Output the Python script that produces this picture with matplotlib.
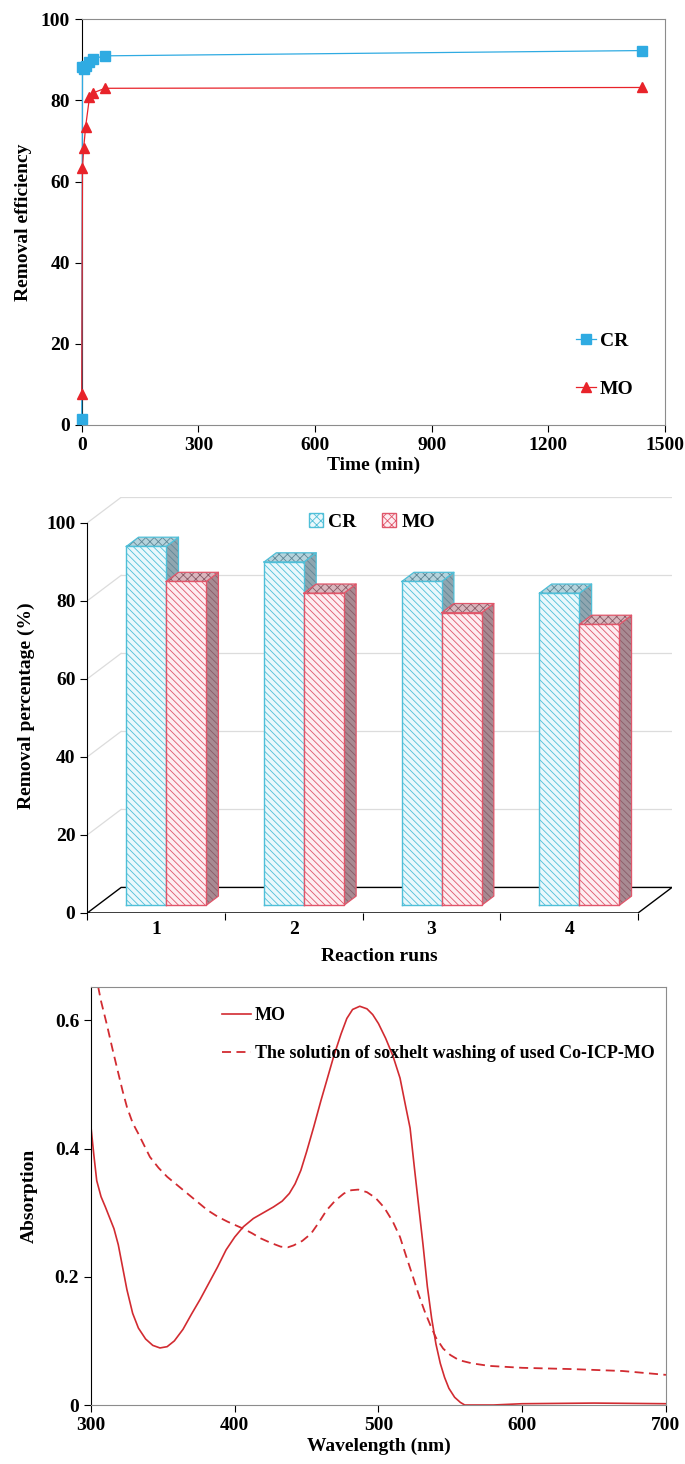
import matplotlib
matplotlib.use('Agg')
import matplotlib.pyplot as plt
from matplotlib.patches import Patch

plt.rcParams['font.family'] = ['Liberation Serif', 'DejaVu Serif']
plt.rcParams['font.weight'] = 'bold'
plt.rcParams['hatch.linewidth'] = 0.6

# removal efficiency vs time
time_cr = [0, 2, 5, 10, 20, 30, 60, 1440]
eff_cr = [1.5, 88.2, 87.8, 88.6, 89.5, 90.3, 91.0, 92.3]
time_mo = [0, 2, 5, 10, 20, 30, 60, 1440]
eff_mo = [7.6, 63.3, 68.2, 73.5, 80.8, 81.9, 83.0, 83.2]

# reusability
runs = ['1', '2', '3', '4']
reuse_cr = [92, 88, 83, 80]
reuse_mo = [83, 80, 75, 72]

# UV-vis spectra
wl_mo = [300, 302, 304, 307, 310, 313, 316, 319, 322, 325, 329, 333, 338, 343,
         348, 353, 358, 364, 370, 376, 382, 388, 394, 400, 406, 413, 420, 427,
         433, 438, 442, 446, 450, 455, 460, 464, 469, 474, 478, 482, 487, 492,
         496, 500, 505, 510, 515, 519, 522, 525, 528, 531, 534, 537, 540, 543,
         546, 549, 553, 557, 560, 580, 600, 650, 700]
abs_mo = [0.434, 0.39, 0.35, 0.325, 0.309, 0.292, 0.275, 0.25, 0.215, 0.18,
          0.143, 0.12, 0.103, 0.093, 0.089, 0.091, 0.1, 0.118, 0.142, 0.165,
          0.19, 0.215, 0.242, 0.262, 0.278, 0.291, 0.3, 0.309, 0.318, 0.33,
          0.345, 0.366, 0.395, 0.434, 0.475, 0.506, 0.545, 0.579, 0.603, 0.617,
          0.622, 0.618, 0.609, 0.595, 0.572, 0.545, 0.51, 0.465, 0.432, 0.37,
          0.31, 0.25, 0.185, 0.135, 0.095, 0.065, 0.043, 0.026, 0.012, 0.004,
          0.0, 0.0, 0.002, 0.003, 0.002]
wl_wash = [303, 307, 311, 315, 318, 322, 325, 329, 333, 337, 341, 347, 353, 360,
           367, 374, 381, 388, 395, 401, 406, 412, 418, 425, 432, 437, 441, 447,
           453, 458, 464, 470, 476, 481, 486, 492, 498, 504, 510, 515, 519, 524,
           528, 532, 536, 540, 545, 550, 556, 565, 577, 600, 635, 670, 700]
abs_wash = [0.675, 0.63, 0.594, 0.555, 0.527, 0.49, 0.465, 0.44, 0.423, 0.405,
            0.387, 0.37, 0.356, 0.343, 0.33, 0.317, 0.304, 0.294, 0.286, 0.28,
            0.275, 0.268, 0.26, 0.253, 0.247, 0.246, 0.249, 0.256, 0.267, 0.283,
            0.304, 0.319, 0.33, 0.335, 0.336, 0.332, 0.323, 0.308, 0.286, 0.262,
            0.234, 0.2, 0.172, 0.147, 0.125, 0.105, 0.088, 0.078, 0.07, 0.065,
            0.061, 0.058, 0.056, 0.053, 0.047]

c_cr = '#2fabe2'
c_mo = '#e8232a'
gray = '#8c8c8c'
fs = 14

fig = plt.figure(figsize=(6.85, 14.64), dpi=100)

# ---------------- top panel ----------------
ax1 = fig.add_axes([0.1193, 0.7097, 0.8515, 0.2771])
ax1.plot(time_cr, eff_cr, color=c_cr, lw=0.9, marker='s', ms=6.5, label='CR',
         zorder=4, clip_on=False)
ax1.plot(time_mo, eff_mo, color=c_mo, lw=0.9, marker='^', ms=7, label='MO',
         zorder=4, clip_on=False)
ax1.set_xlim(0, 1500)
ax1.set_ylim(0, 100)
ax1.set_xticks(range(0, 1501, 300))
ax1.set_yticks(range(0, 101, 20))
ax1.tick_params(labelsize=fs, direction='out', length=5, width=0.8, colors='black')
for s in ['top', 'right', 'bottom']:
    ax1.spines[s].set_color(gray)
ax1.spines['left'].set_color('black')
ax1.set_xlabel('Time (min)', fontsize=fs, fontweight='bold', labelpad=2)
ax1.set_ylabel('Removal efficiency', fontsize=fs, fontweight='bold', labelpad=6)
ax1.legend(loc='center', bbox_to_anchor=(0.897, 0.148), frameon=False,
           fontsize=fs, handlelength=1.0, handletextpad=0.2, labelspacing=1.55)

# ---------------- middle panel (pseudo 3D bars) ----------------
ax2 = fig.add_axes([0.1274, 0.3764, 0.8536, 0.2838])
DX, DY = 0.246, 6.54
ax2.set_xlim(0, 4 + DX)
ax2.set_ylim(0, 106.5)
for s in ['top', 'right', 'bottom']:
    ax2.spines[s].set_visible(False)
ax2.spines['left'].set_bounds(0, 100)
ax2.set_yticks(range(0, 101, 20))
ax2.tick_params(axis='y', labelsize=fs, direction='out', length=5, width=0.8)
ax2.set_xticks([i + 0.5 for i in range(len(runs))])
ax2.set_xticklabels(runs)
ax2.set_xticks(range(len(runs) + 1), minor=True)
ax2.tick_params(axis='x', which='major', length=0, labelsize=fs, pad=6)
ax2.tick_params(axis='x', which='minor', length=5, width=0.8, direction='out')
ax2.set_ylabel('Removal percentage (%)', fontsize=fs, fontweight='bold', labelpad=8)
ax2.set_xlabel('Reaction runs', fontsize=fs, fontweight='bold', labelpad=7)

grid_c = '#dcdcdc'
for v in range(20, 101, 20):
    ax2.plot([DX, 4 + DX], [v + DY, v + DY], color=grid_c, lw=0.9, zorder=1)
    ax2.plot([0, DX], [v, v + DY], color=grid_c, lw=0.9, zorder=1)
ax2.plot([0, 4, 4 + DX, DX, 0], [0, 0, DY, DY, 0], color='black', lw=1.0, zorder=2)

f, d, w = 0.30, 0.36, 0.29
styles = [
    dict(front='#eaf8fc', side='#8fa6b0', top='#b5d3dc', edge='#4fbfd8', hatch_side='#5f8796'),
    dict(front='#fdedf1', side='#a88a92', top='#d8b6bd', edge='#e0566a', hatch_side='#8a5a66'),
]


def bar3d(x0, v, st):
    xf = x0 + f * DX
    yf = f * DY
    ex, ey = d * DX, d * DY
    # right side face
    ax2.fill([xf + w, xf + w + ex, xf + w + ex, xf + w],
             [yf, yf + ey, yf + ey + v, yf + v],
             facecolor=st['side'], edgecolor=st['hatch_side'], hatch='\\\\\\\\\\',
             lw=0, zorder=3)
    ax2.plot([xf + w, xf + w + ex, xf + w + ex, xf + w],
             [yf, yf + ey, yf + ey + v, yf + v], color=st['edge'], lw=0.9, zorder=3)
    # top face
    ax2.fill([xf, xf + w, xf + w + ex, xf + ex],
             [yf + v, yf + v, yf + v + ey, yf + v + ey],
             facecolor=st['top'], edgecolor=st['hatch_side'], hatch='xxxx',
             lw=0, zorder=3)
    ax2.plot([xf, xf + w, xf + w + ex, xf + ex, xf],
             [yf + v, yf + v, yf + v + ey, yf + v + ey, yf + v], color=st['edge'], lw=0.9, zorder=3)
    # front face
    ax2.fill([xf, xf + w, xf + w, xf], [yf, yf, yf + v, yf + v],
             facecolor=st['front'], edgecolor=st['edge'], hatch='\\\\\\\\\\',
             lw=0, zorder=3)
    ax2.plot([xf, xf + w, xf + w, xf, xf], [yf, yf, yf + v, yf + v, yf],
             color=st['edge'], lw=1.0, zorder=3)


for i in range(len(runs)):
    start = i + 0.5 - w
    bar3d(start, reuse_cr[i], styles[0])
    bar3d(start + w, reuse_mo[i], styles[1])

leg_handles = [Patch(facecolor=styles[0]['front'], edgecolor=styles[0]['edge'], hatch='xxxx'),
               Patch(facecolor=styles[1]['front'], edgecolor=styles[1]['edge'], hatch='xxxx')]
ax2.legend(leg_handles, ['CR', 'MO'], loc='center', bbox_to_anchor=(0.487, 0.941),
           ncol=2, frameon=False, fontsize=fs, handlelength=0.7, handleheight=0.7,
           handletextpad=0.3, columnspacing=1.3)

# ---------------- bottom panel ----------------
ax3 = fig.add_axes([0.1328, 0.0403, 0.8394, 0.2855])
c_sp = '#d22b31'
ax3.plot(wl_mo, abs_mo, color=c_sp, lw=1.2, label='MO')
ax3.plot(wl_wash, abs_wash, color=c_sp, lw=1.3, dashes=(5, 3),
         label='The solution of soxhelt washing of used Co-ICP-MO')
ax3.set_xlim(300, 700)
ax3.set_ylim(0, 0.652)
ax3.set_xticks([300, 400, 500, 600, 700])
ax3.set_yticks([0, 0.2, 0.4, 0.6])
ax3.set_yticklabels(['0', '0.2', '0.4', '0.6'])
ax3.tick_params(labelsize=fs, direction='out', length=5, width=0.8)
for s in ['top', 'right', 'bottom']:
    ax3.spines[s].set_color(gray)
ax3.spines['left'].set_color('black')
ax3.set_xlabel('Wavelength (nm)', fontsize=fs, fontweight='bold', labelpad=3)
ax3.set_ylabel('Absorption', fontsize=fs, fontweight='bold', labelpad=12)
ax3.legend(loc='upper left', bbox_to_anchor=(0.2, 0.99), frameon=False,
           fontsize=13, handlelength=1.6, handletextpad=0.2, labelspacing=1.15)

fig.savefig('out.png', dpi=100)
